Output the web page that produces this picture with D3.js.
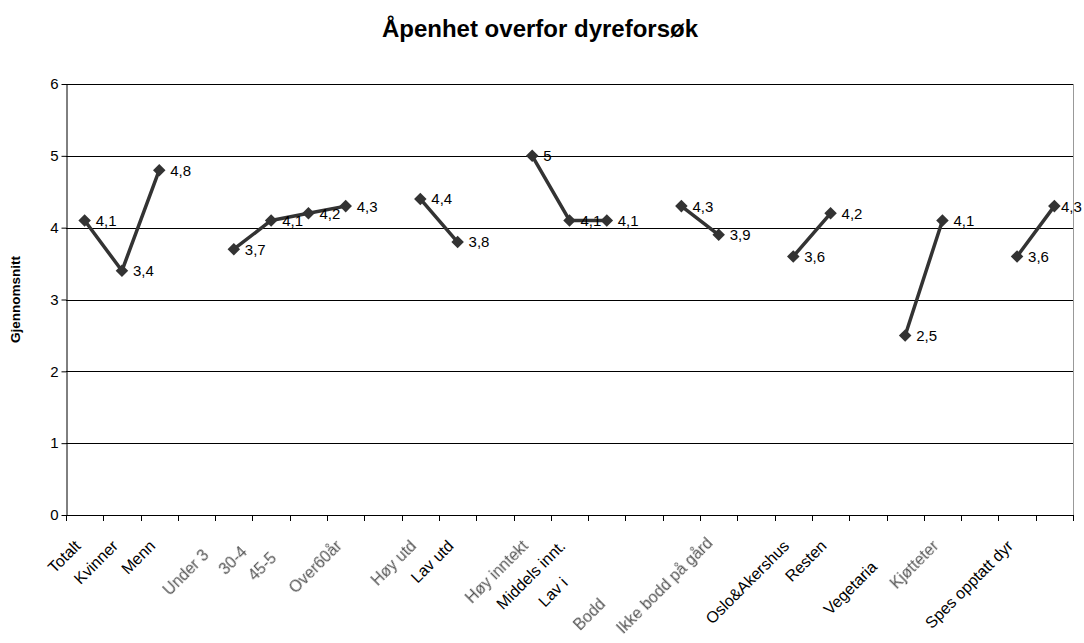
<!DOCTYPE html>
<html><head><meta charset="utf-8">
<script src="https://cdn.jsdelivr.net/npm/d3@7"></script>
<style>
html,body{margin:0;padding:0;background:#fff;}
svg{display:block;font-family:Arial,"Liberation Sans",sans-serif;}
</style></head>
<body><svg id="chart" width="1084" height="643"></svg>
<script>
// ---- data ----
const categories = ["Totalt","Kvinner","Menn","","Under 3","30-4","45-5","Over60år","","Høy utd","Lav utd","","Høy inntekt","Middels innt.","Lav i","","Bodd","Ikke bodd på gård","","Oslo&Akershus","Resten","","Vegetaria","Kjøtteter","","Spes opptatt dyr",""];
const values = [4.1,3.4,4.8,null,3.7,4.1,4.2,4.3,null,4.4,3.8,null,5,4.1,4.1,null,4.3,3.9,null,3.6,4.2,null,2.5,4.1,null,3.6,4.3];
const blurred = [false,false,false,false,true,true,true,true,false,true,false,false,true,false,false,false,true,true,false,false,false,false,false,true,false,false,false];
const yTicks = [0,1,2,3,4,5,6];
const title = "Åpenhet overfor dyreforsøk";
const yTitle = "Gjennomsnitt";
// layout nudges for the irregularly placed axis labels (px)
const labelNudgeX = [0,0,0,0,-21,-20,-28,0,0,0,0,0,0,0,-35,0,-72,-2,0,0,0,0,-24,0,0,0,0];
const labelNudgeY = [0,0,0,0,9,6,12,0,0,0,0,0,0,0,37,0,58,-3,0,0,0,0,21,0,0,0,0];

const svg = d3.select("#chart");
const L = 66, R = 1073, T = 84, B = 515;
const idx = d3.range(categories.length);
const x = d3.scaleBand().domain(idx).range([L, R]).paddingInner(0).paddingOuter(0);
const y = d3.scaleLinear().domain([0, 6]).range([B, T]);
const cx = i => x(i) + x.bandwidth() / 2;

const defs = svg.append("defs");
defs.append("filter").attr("id","soft").append("feGaussianBlur").attr("stdDeviation",0.7);

// title
svg.append("text").attr("x", 540).attr("y", 37).attr("text-anchor","middle")
  .attr("font-weight","bold").attr("font-size",24).text(title);

// gridlines
svg.append("g").selectAll("line").data(yTicks.filter(d => d > 0)).join("line")
  .attr("x1", L).attr("x2", R).attr("y1", d => Math.round(y(d)) + 0.5).attr("y2", d => Math.round(y(d)) + 0.5)
  .attr("stroke", "#000").attr("stroke-width", 1);
// right frame
svg.append("line").attr("x1", R + 0.5).attr("x2", R + 0.5).attr("y1", T).attr("y2", B)
  .attr("stroke", "#999").attr("stroke-width", 1);

// y axis
const yAxis = d3.axisLeft(y).tickValues(yTicks).tickSize(5).tickSizeOuter(0).tickFormat(d3.format("d"));
const gy = svg.append("g").attr("transform", `translate(${L + 0.5},0)`).call(yAxis);
gy.select(".domain").attr("stroke", "#000");
gy.selectAll(".tick line").attr("stroke", "#000");
gy.selectAll(".tick text").attr("font-size", 15).attr("x", -8).attr("fill", "#000").attr("font-family","Arial,'Liberation Sans',sans-serif");

// x axis line and ticks at band boundaries
const bounds = idx.map(i => x(i)).concat([R]);
svg.append("line").attr("x1", L).attr("x2", R).attr("y1", B + 0.5).attr("y2", B + 0.5).attr("stroke", "#000");
svg.append("g").selectAll("line").data(bounds).join("line")
  .attr("x1", d => Math.round(d) + 0.5).attr("x2", d => Math.round(d) + 0.5)
  .attr("y1", B).attr("y2", B + 6).attr("stroke", "#000");

// x labels
svg.append("g").selectAll("text").data(idx.filter(i => categories[i] !== "")).join("text")
  .attr("text-anchor", "end").attr("font-size", 16)
  .attr("fill", i => blurred[i] ? "#555" : "#000")
  .attr("filter", i => blurred[i] ? "url(#soft)" : null)
  .attr("transform", i => `translate(${cx(i) - 3 + labelNudgeX[i]},${B + 32 + labelNudgeY[i]}) rotate(-45)`)
  .text(i => categories[i]);

// y title
svg.append("text").attr("transform", `translate(20,${(T + B) / 2}) rotate(-90)`)
  .attr("text-anchor","middle").attr("font-weight","bold").attr("font-size",13.5).text(yTitle);

// line
const pts = idx.map(i => ({i, v: values[i]}));
const line = d3.line().defined(d => d.v != null).x(d => cx(d.i)).y(d => y(d.v));
svg.append("path").attr("d", line(pts)).attr("fill","none").attr("stroke","#333").attr("stroke-width",3.5)
  .attr("stroke-linejoin","round");

// markers
const sym = d3.symbol().type(d3.symbolDiamond2).size(100);
const valid = pts.filter(d => d.v != null);
svg.append("g").selectAll("path").data(valid).join("path")
  .attr("d", sym).attr("transform", d => `translate(${cx(d.i)},${y(d.v)})`)
  .attr("fill","#333");

// data labels
const fmt = v => String(v).replace(".", ",");
svg.append("g").selectAll("text").data(valid).join("text")
  .attr("x", d => Math.min(cx(d.i) + 11, 1061)).attr("y", d => y(d.v)).attr("dy","0.36em")
  .attr("font-size", 15).attr("fill","#000").text(d => fmt(d.v));
</script></body></html>
